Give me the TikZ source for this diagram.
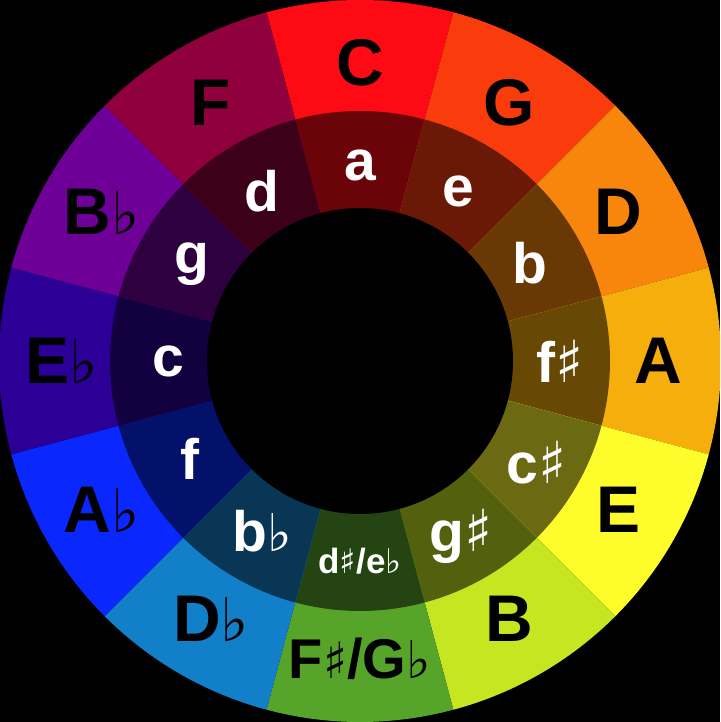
\documentclass[tikz,border=0pt]{standalone}
\usepackage{fontspec}
\setmainfont{Liberation Sans}
\newfontfamily\musicfont{DejaVu Sans}
\usepackage{tikz}

% accidentals, size in pt
\newcommand{\flt}[1][60]{{\musicfont\mdseries\fontsize{#1}{#1}\selectfont ♭}}
\newcommand{\shp}[1][58]{{\musicfont\mdseries\fontsize{#1}{#1}\selectfont ♯}}

\definecolor{keyC}{RGB}{254,10,20}
\definecolor{keyG}{RGB}{250,60,12}
\definecolor{keyD}{RGB}{248,134,12}
\definecolor{keyA}{RGB}{245,174,12}
\definecolor{keyE}{RGB}{254,252,42}
\definecolor{keyB}{RGB}{198,230,34}
\definecolor{keyGb}{RGB}{86,165,42}
\definecolor{keyDb}{RGB}{18,128,200}
\definecolor{keyAb}{RGB}{10,40,254}
\definecolor{keyEb}{RGB}{44,0,150}
\definecolor{keyBb}{RGB}{110,0,152}
\definecolor{keyF}{RGB}{144,0,60}

\begin{document}
\begin{tikzpicture}[
  x=1pt, y=1pt,
  major/.style={font=\bfseries\fontsize{66}{66}\selectfont, text=black,
                inner sep=0pt},
  minor/.style={font=\bfseries\fontsize{57}{57}\selectfont, text=white,
                inner sep=0pt},
]
\useasboundingbox (-360,-361) rectangle (360,361);
\fill[black] (-360,-361) rectangle (360,361);
\begin{scope}
\clip (-360,-361) rectangle (360,361);
% sectors: major outside, darker minor inside
\foreach \ang/\col in {90/keyC, 60/keyG, 30/keyD, 0/keyA, -30/keyE, -60/keyB,
                       -90/keyGb, -120/keyDb, -150/keyAb, 180/keyEb,
                       150/keyBb, 120/keyF} {
  \fill[\col] (0,0) -- (\ang-15:361)
    arc[start angle=\ang-15, end angle=\ang+15, radius=361] -- cycle;
  \fill[\col!42!black] (0,0) -- (\ang-15:250)
    arc[start angle=\ang-15, end angle=\ang+15, radius=250] -- cycle;
}
\end{scope}
\fill[black] (0,0) circle[radius=153];

% major keys
\node[major] (C) at (90:298) {C};
\node[major] (G) at (60:298) {G};
\node[major] (D) at (30:298) {D};
\node[major] (A) at (0:298) {A};
\node[major] (E) at (-30:298) {E};
\node[major] (B) at (-60:298) {B};
\node[major, font=\bfseries\fontsize{56}{56}\selectfont] (Gb) at (-90:298)
 {F\shp[50]/G\flt[52]};
\node[major] (Db) at (-120:298) {D\flt};
\node[major] (Ab) at (-150:298) {A\flt};
\node[major] (Eb) at (180:298) {E\flt};
\node[major] (Bb) at (150:298) {B\flt};
\node[major] (F) at (120:298) {F};

% minor keys
\node[minor] (am) at (90:196) {a};
\node[minor] (em) at (60:196) {e};
\node[minor] (bm) at (30:196) {b};
\node[minor] (fsm) at (0:200) {f\shp};
\node[minor] (csm) at (-30:204) {c\shp};
\node[minor] (gsm) at (-60:202) {g\shp};
\node[minor, font=\bfseries\fontsize{35}{35}\selectfont] (dsm) at (-90:200)
 {d\shp[34]/e\flt[34]};
\node[minor] (bbm) at (-120:196) {b\flt[52]};
\node[minor] (fm) at (-150:196) {f};
\node[minor] (cm) at (180:192) {c};
\node[minor] (gm) at (150:194) {g};
\node[minor] (dm) at (120:196) {d};
\end{tikzpicture}
\end{document}
